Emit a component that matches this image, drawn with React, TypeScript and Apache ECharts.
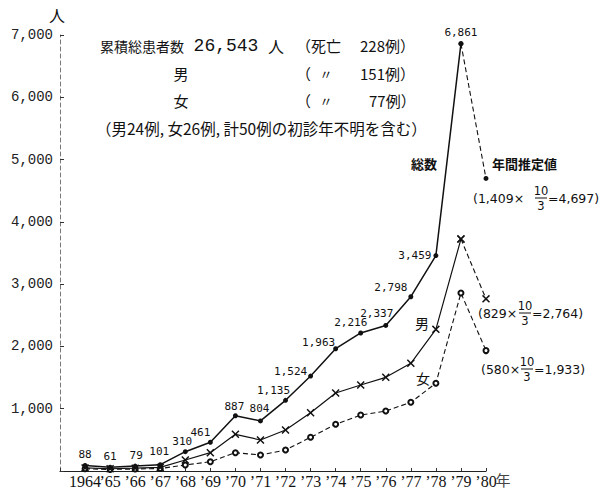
import React, { useEffect, useRef } from "react";
import * as echarts from "echarts";

const YEARS = [1964, 1965, 1966, 1967, 1968, 1969, 1970, 1971, 1972, 1973, 1974, 1975, 1976, 1977, 1978, 1979, 1980];
const X_LABELS = ["1964", "’65", "’66", "’67", "’68", "’69", "’70", "’71", "’72", "’73", "’74", "’75", "’76", "’77", "’78", "’79", "’80"];
const Y_TICKS = [0, 1000, 2000, 3000, 4000, 5000, 6000, 7000];
const TOTAL = [88, 61, 79, 101, 310, 461, 887, 804, 1135, 1524, 1963, 2216, 2337, 2798, 3459, 6861, 4697];
const MALE = [50, 36, 45, 58, 177, 294, 589, 498, 658, 936, 1252, 1380, 1504, 1729, 2274, 3724, 2764];
const FEMALE = [36, 25, 32, 40, 96, 149, 294, 257, 337, 541, 750, 899, 963, 1103, 1408, 2857, 1933];
const ESTIMATE_YEAR = 1980;

// label offsets (style) for the total series, [dx, dy] from point
const LABEL_OFFSETS = [
  [0, -11], [0, -11], [1, -11], [-1, -13], [-3, -10], [-10, -10], [-1, -9], [-1, -12],
  [-12, -10], [-20, -5], [-17, -6], [-10, -10], [-9, -12], [-20, -9], [-21, 0], [0, -11],
];

const CJK = '"Noto Sans CJK JP"';
const NUM = '"DejaVu Sans"';
const INK = "#111";

function t(text: string, x: number, y: number, size: number, family: string, align: string = "left", fill: string = INK, weight: string = "normal") {
  return {
    type: "text",
    x,
    y,
    silent: true,
    style: {
      text,
      font: `${weight} ${size}px ${family}`,
      fill,
      align,
      verticalAlign: "middle",
    },
  };
}

function fraction(x0: number, yc: number, pre: string, post: string, cx: number, size: number) {
  const preEl = t(pre, x0, yc, size, NUM, "left");
  const num = t("10", cx, yc - 7, size - 1, NUM, "center");
  const den = t("3", cx, yc + 7.5, size - 1, NUM, "center");
  const bar = {
    type: "line",
    silent: true,
    shape: { x1: cx - 6, y1: yc, x2: cx + 6, y2: yc },
    style: { stroke: INK, lineWidth: 1 },
  };
  const postEl = t(post, cx + 7, yc, size, NUM, "left");
  return [preEl, num, bar, den, postEl];
}

const pairs = (vals: number[], from: number, to: number) =>
  YEARS.map((y, i) => [y, vals[i]]).filter((p) => p[0] >= from && p[0] <= to);

export default function App() {
  const ref = useRef<HTMLDivElement>(null);
  useEffect(() => {
    if (!ref.current) return;
    const chart = echarts.init(ref.current, null, { renderer: "svg" });
    const lastSolid = ESTIMATE_YEAR - 1;

    const totalSolid = YEARS.map((y, i) => ({ y, i }))
      .filter((d) => d.y <= lastSolid)
      .map((d) => ({
        value: [d.y, TOTAL[d.i]],
        label: { offset: LABEL_OFFSETS[d.i] },
      }));

    const xSymbol =
      "path://M0,1.3L1.3,0L5,3.7L8.7,0L10,1.3L6.3,5L10,8.7L8.7,10L5,6.3L1.3,10L0,8.7L3.7,5Z";

    chart.setOption({
      animation: false,
      backgroundColor: "#fff",
      grid: { left: 60, right: 115, top: 35, bottom: 18, containLabel: false },
      xAxis: {
        type: "value",
        min: 1963,
        max: 1980,
        interval: 1,
        splitLine: { show: false },
        axisLine: { show: true, lineStyle: { color: "#222", width: 1.2 } },
        axisTick: { show: true, inside: true, length: 3, lineStyle: { color: "#333" } },
        axisLabel: {
          margin: 2,
          color: INK,
          fontFamily: '"Liberation Serif"',
          fontSize: 16,
          showMinLabel: true,
          showMaxLabel: true,
          formatter: (v: number) => {
            const idx = YEARS.indexOf(v);
            return idx >= 0 ? X_LABELS[idx] : "";
          },
        },
      },
      yAxis: {
        type: "value",
        min: Y_TICKS[0],
        max: Y_TICKS[Y_TICKS.length - 1],
        interval: 1000,
        splitLine: { show: false },
        axisLine: { show: true, lineStyle: { color: "#777", width: 1, type: [4, 3] } },
        axisTick: { show: true, inside: true, length: 4, lineStyle: { color: "#333" } },
        axisLabel: {
          margin: 7,
          color: "#222",
          fontFamily: '"Liberation Mono"',
          fontSize: 14,
          formatter: (v: number) => (v === 0 ? "" : v.toLocaleString("en-US")),
        },
      },
      series: [
        {
          type: "line",
          data: pairs(FEMALE, 1964, 1980),
          symbol: "emptyCircle",
          symbolSize: 5,
          lineStyle: { color: INK, width: 1.1, type: [5, 3] },
          itemStyle: { color: INK, borderWidth: 1 },
          z: 2,
        },
        {
          type: "line",
          data: pairs(MALE, 1964, lastSolid),
          symbol: xSymbol,
          symbolSize: 8,
          lineStyle: { color: INK, width: 1.2 },
          itemStyle: { color: INK },
          z: 3,
        },
        {
          type: "line",
          data: pairs(MALE, lastSolid, ESTIMATE_YEAR),
          symbol: xSymbol,
          symbolSize: 8,
          lineStyle: { color: INK, width: 1.1, type: [5, 3] },
          itemStyle: { color: INK },
          z: 3,
        },
        {
          type: "line",
          data: totalSolid,
          symbol: "circle",
          symbolSize: 5,
          lineStyle: { color: INK, width: 1.5 },
          itemStyle: { color: INK },
          label: {
            show: true,
            position: "inside",
            color: INK,
            fontFamily: '"DejaVu Sans Mono"',
            fontSize: 11,
            formatter: (p: any) => Number(p.value[1]).toLocaleString("en-US"),
          },
          z: 4,
        },
        {
          type: "line",
          data: pairs(TOTAL, lastSolid, ESTIMATE_YEAR),
          symbol: "circle",
          symbolSize: 5,
          lineStyle: { color: INK, width: 1.1, type: [5, 3] },
          itemStyle: { color: INK },
          z: 4,
        },
      ],
      graphic: [
        t("人", 57, 15, 16, CJK, "center"),
        t("年", 503, 479, 15, CJK, "center", "#444"),
        // header block
        t("累積総患者数", 100, 46, 14, CJK),
        t("26,543", 226, 46, 18, '"Liberation Mono"', "center"),
        t("人", 276, 46, 16, CJK, "center"),
        t("（死亡", 296, 45, 15, CJK),
        t("228例）", 360, 45, 15, CJK),
        t("男", 181, 73, 15, CJK, "center"),
        t("（", 296, 73, 15, CJK),
        t("〃", 326, 73, 13, CJK, "center"),
        t("151例）", 360, 73, 15, CJK),
        t("女", 181, 100, 15, CJK, "center"),
        t("（", 296, 100, 15, CJK),
        t("〃", 326, 100, 13, CJK, "center"),
        t("77例）", 369, 100, 15, CJK),
        t("（男24例, 女26例, 計50例の初診年不明を含む）", 96, 128, 15.5, CJK),
        // right annotations
        t("総数", 424, 163, 13, CJK, "center", INK, "bold"),
        t("年間推定値", 492, 163, 13, CJK, "left", INK, "bold"),
        ...fraction(473, 198, "(1,409×", "=4,697)", 541, 12.5),
        t("男", 422, 323, 14, CJK, "center"),
        ...fraction(478, 313, "(829×", "=2,764)", 525, 12.5),
        t("女", 423, 378, 14, CJK, "center"),
        ...fraction(481, 369, "(580×", "=1,933)", 527, 12.5),
      ],
    });
    return () => chart.dispose();
  }, []);

  return (
    <div
      ref={ref}
      style={{ position: "fixed", left: 0, top: 0, width: 601, height: 489, background: "#fff" }}
    />
  );
}
